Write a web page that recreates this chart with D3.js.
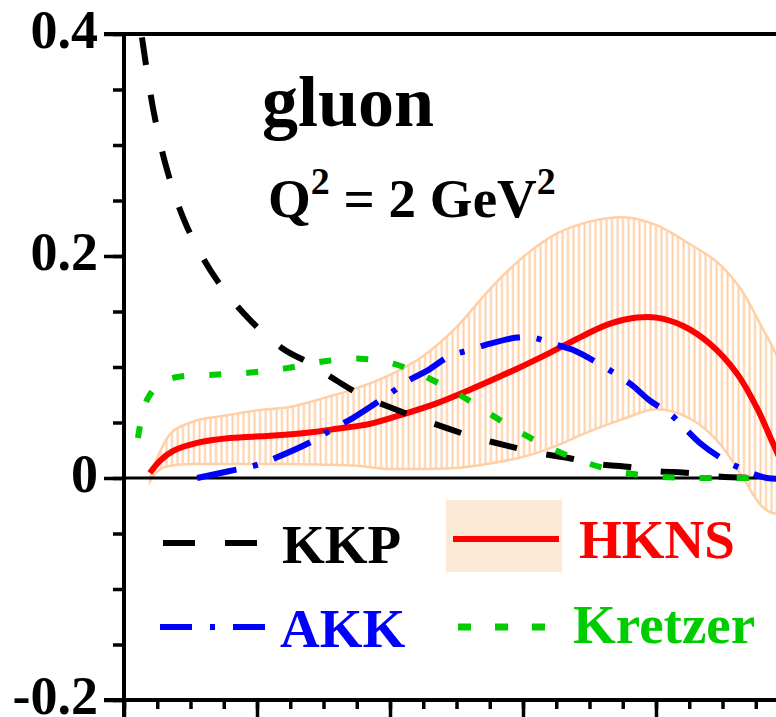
<!DOCTYPE html>
<html>
<head>
<meta charset="utf-8">
<script src="https://cdn.jsdelivr.net/npm/d3@7/dist/d3.min.js"></script>
<style>
  html, body { margin: 0; padding: 0; background: #fff; }
  svg { display: block; }
  text { font-family: "Liberation Serif", "Times New Roman", serif; font-weight: bold; }
</style>
</head>
<body>
<svg id="chart" width="776" height="717"></svg>
<script>
// Gluon fragmentation functions at Q^2 = 2 GeV^2, z*D(z)
const kkpZ = [0.027, 0.044, 0.065, 0.095, 0.14, 0.19, 0.239, 0.28, 0.32, 0.359, 0.403, 0.442, 0.49, 0.531, 0.577, 0.621, 0.668, 0.711, 0.761, 0.8, 0.851, 0.893, 0.95, 1.0];
const kkpV = [0.397, 0.332, 0.277, 0.226, 0.178, 0.142, 0.1165, 0.103, 0.0876, 0.074, 0.063, 0.054, 0.044, 0.036, 0.029, 0.0226, 0.018, 0.0126, 0.0099, 0.0063, 0.0045, 0.0015, 0.0, 0.0];

const hknsZ = [0.039, 0.054, 0.074, 0.11, 0.159, 0.22, 0.275, 0.32, 0.37, 0.42, 0.471, 0.52, 0.591, 0.641, 0.69, 0.731, 0.771, 0.801, 0.841, 0.881, 0.922, 0.952, 0.976, 1.0];
const hknsV = [0.0045, 0.0154, 0.0244, 0.0316, 0.036, 0.038, 0.0407, 0.0443, 0.0488, 0.0575, 0.0675, 0.0795, 0.0985, 0.113, 0.128, 0.139, 0.1445, 0.1445, 0.137, 0.121, 0.094, 0.063, 0.031, 0.0];

const bandZ    = [0.039, 0.05, 0.07, 0.1, 0.15, 0.2, 0.25, 0.3, 0.35, 0.4, 0.45, 0.5, 0.55, 0.6, 0.65, 0.7, 0.75, 0.8, 0.85, 0.9, 0.93, 0.96, 0.98, 1.0];
const bandHigh = [0.0, 0.018, 0.040, 0.050, 0.056, 0.061, 0.064, 0.072, 0.081, 0.093, 0.110, 0.136, 0.170, 0.199, 0.220, 0.231, 0.235, 0.228, 0.211, 0.190, 0.168, 0.135, 0.112, 0.080];
const bandLow  = [-0.003, 0.006, 0.011, 0.0126, 0.0126, 0.0126, 0.0126, 0.012, 0.011, 0.008, 0.008, 0.009, 0.013, 0.019, 0.029, 0.042, 0.053, 0.062, 0.054, 0.028, 0.001, -0.026, -0.032, -0.03];

const akkZ = [0.11, 0.159, 0.194, 0.224, 0.284, 0.314, 0.344, 0.4, 0.427, 0.456, 0.49, 0.516, 0.55, 0.591, 0.615, 0.645, 0.678, 0.711, 0.761, 0.791, 0.821, 0.866, 0.893, 0.926, 0.967, 1.0];
const akkV = [0.0, 0.0063, 0.0108, 0.0172, 0.0334, 0.0443, 0.054, 0.076, 0.0876, 0.0967, 0.110, 0.1147, 0.121, 0.1265, 0.1265, 0.121, 0.1147, 0.104, 0.085, 0.0696, 0.0578, 0.0316, 0.0199, 0.009, 0.0, 0.0];

const kretzerZ = [0.021, 0.027, 0.036, 0.054, 0.08, 0.134, 0.19, 0.245, 0.299, 0.355, 0.405, 0.46, 0.51, 0.555, 0.6, 0.651, 0.701, 0.756, 0.81, 0.871, 0.956];
const kretzerV = [0.036, 0.056, 0.072, 0.085, 0.091, 0.093, 0.095, 0.099, 0.105, 0.1075, 0.103, 0.0894, 0.073, 0.056, 0.0397, 0.0244, 0.0126, 0.0045, 0.001, 0.0, 0.0];

const yMajorTicks = [-0.2, 0, 0.2, 0.4];
const yTickLabels = ["-0.2", "0", "0.2", "0.4"];
const xMajorTicks = [0, 0.2, 0.4, 0.6, 0.8, 1.0];

const svg = d3.select("#chart");
const padL = 124, padT = 34, padR = 789, padB = 700;

const x = d3.scaleLinear().domain([0, 1]).range([padL, padR]);
const y = d3.scaleLinear().domain([-0.2, 0.4]).range([padB, padT]);

// vertical hatching used for the HKNS uncertainty band
const defs = svg.append("defs");
const pat = defs.append("pattern")
  .attr("id", "hatch").attr("patternUnits", "userSpaceOnUse")
  .attr("width", 5.5).attr("height", 10);
pat.append("line").attr("x1", 1.5).attr("x2", 1.5).attr("y1", 0).attr("y2", 10)
  .attr("stroke", "#ffcfa6").attr("stroke-width", 2);
defs.append("clipPath").attr("id", "plotClip")
  .append("rect").attr("x", padL).attr("y", padT).attr("width", padR - padL).attr("height", padB - padT);

const plot = svg.append("g").attr("clip-path", "url(#plotClip)");

// band
const bandData = bandZ.map((z, i) => ({ z, lo: bandLow[i], hi: bandHigh[i] }));
const area = d3.area().x(d => x(d.z)).y0(d => y(d.lo)).y1(d => y(d.hi)).curve(d3.curveMonotoneX);
plot.append("path").datum(bandData).attr("d", area)
  .attr("fill", "url(#hatch)").attr("stroke", "#ffcfa6").attr("stroke-width", 2.5);

// zero line
plot.append("line").attr("x1", padL).attr("x2", padR).attr("y1", y(0)).attr("y2", y(0))
  .attr("stroke", "#000").attr("stroke-width", 3);

function curve(zs, vs, color, dash) {
  const pts = zs.map((z, i) => [x(z), y(vs[i])]);
  plot.append("path").datum(pts)
    .attr("d", d3.line().curve(d3.curveCatmullRom.alpha(0.5)))
    .attr("fill", "none").attr("stroke", color).attr("stroke-width", 6)
    .attr("stroke-dasharray", dash);
}
curve(hknsZ, hknsV, "#ff0000", null);
curve(kkpZ, kkpV, "#000000", "28,30");
curve(akkZ, akkV, "#0000ff", "40,17,5,17");
curve(kretzerZ, kretzerV, "#00cc00", "12,25");

// axes
const axisColor = "#000";
function styleAxis(g, w) {
  g.select(".domain").remove();
  g.selectAll(".tick line").attr("stroke", axisColor).attr("stroke-width", w);
  g.selectAll(".tick text").remove();
}
const yMinor = d3.range(-0.2, 0.4001, 0.05).map(v => +v.toFixed(2));
svg.append("g").attr("transform", `translate(${padL},0)`)
  .call(d3.axisLeft(y).tickValues(yMinor).tickSize(11).tickFormat(""))
  .call(g => styleAxis(g, 3.5));
svg.append("g").attr("transform", `translate(${padL},0)`)
  .call(d3.axisLeft(y).tickValues(yMajorTicks).tickSize(20).tickFormat(""))
  .call(g => styleAxis(g, 3.5));

const xMinor = d3.range(0, 1.0001, 0.05).map(v => +v.toFixed(2));
svg.append("g").attr("transform", `translate(0,${padB})`)
  .call(d3.axisBottom(x).tickValues(xMinor).tickSize(9).tickFormat(""))
  .call(g => styleAxis(g, 3.5));
svg.append("g").attr("transform", `translate(0,${padB})`)
  .call(d3.axisBottom(x).tickValues(xMajorTicks).tickSize(18).tickFormat(""))
  .call(g => styleAxis(g, 3.5));

// frame lines
svg.append("line").attr("x1", padL).attr("x2", padL).attr("y1", padT - 2).attr("y2", padB + 18)
  .attr("stroke", axisColor).attr("stroke-width", 4);
svg.append("line").attr("x1", padL - 20).attr("x2", padR + 10).attr("y1", padT).attr("y2", padT)
  .attr("stroke", axisColor).attr("stroke-width", 4);
svg.append("line").attr("x1", padL - 20).attr("x2", padR + 10).attr("y1", padB).attr("y2", padB)
  .attr("stroke", axisColor).attr("stroke-width", 4);

// y tick labels
svg.selectAll("text.ylab").data(yMajorTicks).enter().append("text")
  .attr("class", "ylab")
  .attr("x", 98).attr("y", d => y(d) + 14)
  .attr("text-anchor", "end").attr("font-size", 54).attr("fill", "#000")
  .text((d, i) => yTickLabels[i]);

// titles
svg.append("text").attr("x", 262).attr("y", 126).attr("font-size", 72).attr("fill", "#000").text("gluon");
const qt = svg.append("text").attr("x", 268).attr("y", 217).attr("font-size", 55).attr("fill", "#000");
qt.append("tspan").text("Q");
qt.append("tspan").attr("font-size", 38).attr("dy", -23).text("2");
qt.append("tspan").attr("dy", 23).text(" = 2 GeV");
qt.append("tspan").attr("font-size", 38).attr("dy", -23).text("2");

// legend
const legend = svg.append("g");
legend.append("line").attr("x1", 163).attr("x2", 258).attr("y1", 543).attr("y2", 543)
  .attr("stroke", "#000").attr("stroke-width", 6).attr("stroke-dasharray", "32,30");
legend.append("text").attr("x", 282).attr("y", 563).attr("font-size", 55).attr("fill", "#000").text("KKP");

legend.append("rect").attr("x", 446).attr("y", 500).attr("width", 116).attr("height", 72).attr("fill", "#fdead6");
legend.append("line").attr("x1", 453).attr("x2", 559).attr("y1", 539).attr("y2", 539)
  .attr("stroke", "#ff0000").attr("stroke-width", 6);
legend.append("text").attr("x", 579).attr("y", 558).attr("font-size", 55).attr("fill", "#ff0000").text("HKNS");

legend.append("line").attr("x1", 160).attr("x2", 265).attr("y1", 627).attr("y2", 627)
  .attr("stroke", "#0000ff").attr("stroke-width", 6).attr("stroke-dasharray", "32,18,5,18");
legend.append("text").attr("x", 280).attr("y", 647).attr("font-size", 55).attr("fill", "#0000ff").text("AKK");

legend.append("line").attr("x1", 458).attr("x2", 548).attr("y1", 627).attr("y2", 627)
  .attr("stroke", "#00cc00").attr("stroke-width", 7).attr("stroke-dasharray", "13,24");
legend.append("text").attr("x", 573).attr("y", 643).attr("font-size", 55).attr("fill", "#00cc00").text("Kretzer");
</script>
</body>
</html>
